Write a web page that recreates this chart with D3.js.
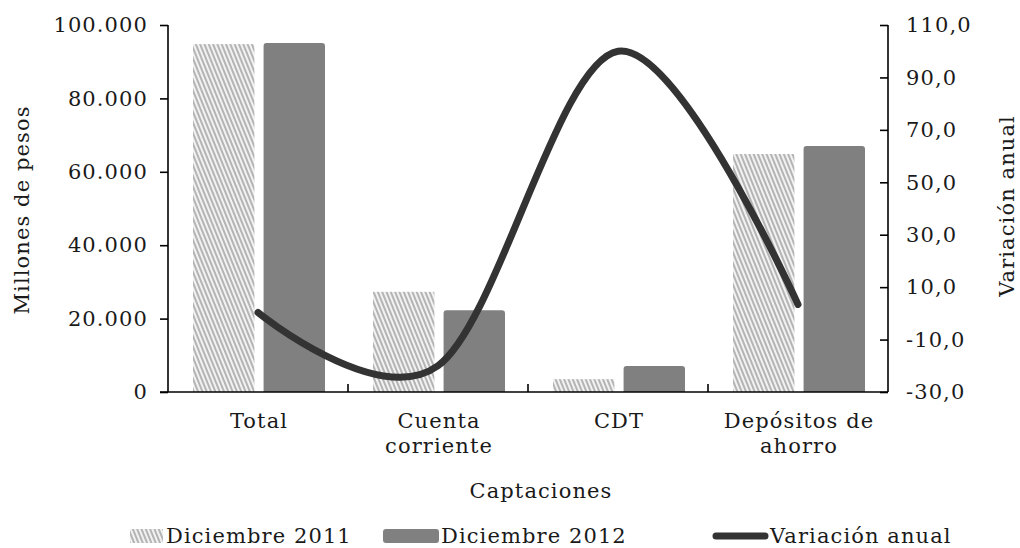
<!DOCTYPE html>
<html>
<head>
<meta charset="utf-8">
<script src="https://cdn.jsdelivr.net/npm/d3@7"></script>
<style>
  body { margin: 0; background: #fff; }
  svg text { font-family: "DejaVu Serif", serif; font-size: 21px; fill: #1a1a1a; letter-spacing: 1.1px; }
</style>
</head>
<body>
<div id="chart"></div>
<script>
// data
const categories = ["Total", "Cuenta corriente", "CDT", "Depósitos de ahorro"];
const catLabels = [["Total"], ["Cuenta", "corriente"], ["CDT"], ["Depósitos de", "ahorro"]];
const series = ["Diciembre 2011", "Diciembre 2012"];
const dic2011 = [94800, 27300, 3500, 64850];
const dic2012 = [95100, 22300, 7100, 67000];
const variacion = [0.3, -20, 100, 3.4];
const leftTicks = [0, 20000, 40000, 60000, 80000, 100000];
const rightTicks = [-30, -10, 10, 30, 50, 70, 90, 110];

const W = 1020, H = 548;
const pLeft = 168, pRight = 888, pTop = 25, pBottom = 392;

const loc = d3.formatLocale({ decimal: ",", thousands: ".", grouping: [3], currency: ["$", ""], minus: "-" });
const fmtL = loc.format(",.0f");
const fmtR = loc.format(".1f");

const svg = d3.select("#chart").append("svg")
    .attr("width", W).attr("height", H);

const defs = svg.append("defs");
const pat = defs.append("pattern")
    .attr("id", "hatch")
    .attr("patternUnits", "userSpaceOnUse")
    .attr("width", 4).attr("height", 4)
    .attr("patternTransform", "rotate(-22)");
pat.append("rect").attr("width", 4).attr("height", 4).attr("fill", "#f2f2f2");
pat.append("rect").attr("width", 2).attr("height", 4).attr("fill", "#b4b4b4");

defs.append("clipPath").attr("id", "plotclip")
    .append("rect").attr("x", pLeft).attr("y", 0).attr("width", pRight - pLeft).attr("height", pBottom);

const x = d3.scaleBand().domain(categories).range([pLeft, pRight]);
const xs = d3.scaleBand().domain(series).range([-65, 67]).paddingInner(0.13);
const yL = d3.scaleLinear().domain([0, 100000]).range([pBottom, pTop]);
const yR = d3.scaleLinear().domain([-30, 110]).range([pBottom, pTop]);

// bars
const bars = svg.append("g").attr("clip-path", "url(#plotclip)");
bars.selectAll("rect.b11")
    .data(categories)
    .enter().append("rect")
    .attr("class", "b11")
    .attr("x", d => x(d) + x.bandwidth() / 2 + xs(series[0]))
    .attr("width", xs.bandwidth())
    .attr("y", (d, i) => yL(dic2011[i]))
    .attr("height", (d, i) => pBottom - yL(dic2011[i]))
    .attr("fill", "url(#hatch)");

bars.selectAll("rect.b12")
    .data(categories)
    .enter().append("rect")
    .attr("class", "b12")
    .attr("x", d => x(d) + x.bandwidth() / 2 + xs(series[1]))
    .attr("width", xs.bandwidth())
    .attr("y", (d, i) => yL(dic2012[i]))
    .attr("height", (d, i) => pBottom - yL(dic2012[i]) + 5)
    .attr("rx", 3)
    .attr("fill", "#808080");

// axes
const axisL = svg.append("g").attr("transform", `translate(${pLeft},0)`)
    .call(d3.axisLeft(yL).tickValues(leftTicks).tickFormat(fmtL).tickSize(8).tickPadding(12));
const axisR = svg.append("g").attr("transform", `translate(${pRight},0)`)
    .call(d3.axisRight(yR).tickValues(rightTicks).tickFormat(fmtR).tickSize(-8).tickPadding(18));
[axisL, axisR].forEach(a => {
    a.attr("font-size", null).attr("font-family", null);
    a.select(".domain").attr("stroke", "#000").attr("stroke-width", 1.6)
        .attr("d", `M0,${pTop}V${pBottom}`);
    a.selectAll(".tick line").attr("stroke", "#000").attr("stroke-width", 1.6);
    a.selectAll(".tick text").attr("fill", "#1a1a1a");
});

// category axis
const gx = svg.append("g");
gx.append("line").attr("x1", pLeft - 8).attr("x2", pRight).attr("y1", pBottom).attr("y2", pBottom)
    .attr("stroke", "#000").attr("stroke-width", 1.6);
gx.selectAll("line.sep")
    .data(categories.slice(1))
    .enter().append("line")
    .attr("class", "sep")
    .attr("x1", d => x(d)).attr("x2", d => x(d))
    .attr("y1", pBottom).attr("y2", pBottom - 8)
    .attr("stroke", "#000").attr("stroke-width", 1.6);
gx.selectAll("text.cat")
    .data(categories)
    .enter().append("text")
    .attr("class", "cat")
    .attr("text-anchor", "middle")
    .attr("y", 428)
    .each(function (d, i) {
        const t = d3.select(this);
        catLabels[i].forEach((ln, j) => {
            t.append("tspan").attr("x", x(d) + x.bandwidth() / 2 + 1).attr("dy", j === 0 ? 0 : 25).text(ln);
        });
    });

// line series
const line = d3.line()
    .x((d, i) => x(categories[i]) + x.bandwidth() / 2)
    .y(d => yR(d))
    .curve(d3.curveCardinal.tension(0));
svg.append("path")
    .datum(variacion)
    .attr("d", line)
    .attr("fill", "none")
    .attr("stroke", "#333333")
    .attr("stroke-width", 7)
    .attr("stroke-linecap", "round")
    .attr("stroke-linejoin", "round");

// titles
svg.append("text").attr("text-anchor", "middle")
    .attr("transform", "translate(29,210) rotate(-90)")
    .text("Millones de pesos");
svg.append("text").attr("text-anchor", "middle")
    .attr("transform", "translate(1014,206) rotate(-90)")
    .text("Variación anual");
svg.append("text").attr("text-anchor", "middle")
    .attr("x", 541).attr("y", 498)
    .text("Captaciones");

// legend
const lg = svg.append("g");
lg.append("rect").attr("x", 130).attr("y", 529).attr("width", 33).attr("height", 14).attr("fill", "url(#hatch)");
lg.append("text").attr("x", 166).attr("y", 543).text(series[0]);
lg.append("rect").attr("x", 383).attr("y", 529).attr("width", 56).attr("height", 14).attr("rx", 3).attr("fill", "#808080");
lg.append("text").attr("x", 441).attr("y", 543).text(series[1]);
lg.append("line").attr("x1", 716).attr("x2", 765).attr("y1", 536).attr("y2", 536)
    .attr("stroke", "#333333").attr("stroke-width", 7).attr("stroke-linecap", "round");
lg.append("text").attr("x", 770).attr("y", 543).text("Variación anual");
</script>
</body>
</html>
